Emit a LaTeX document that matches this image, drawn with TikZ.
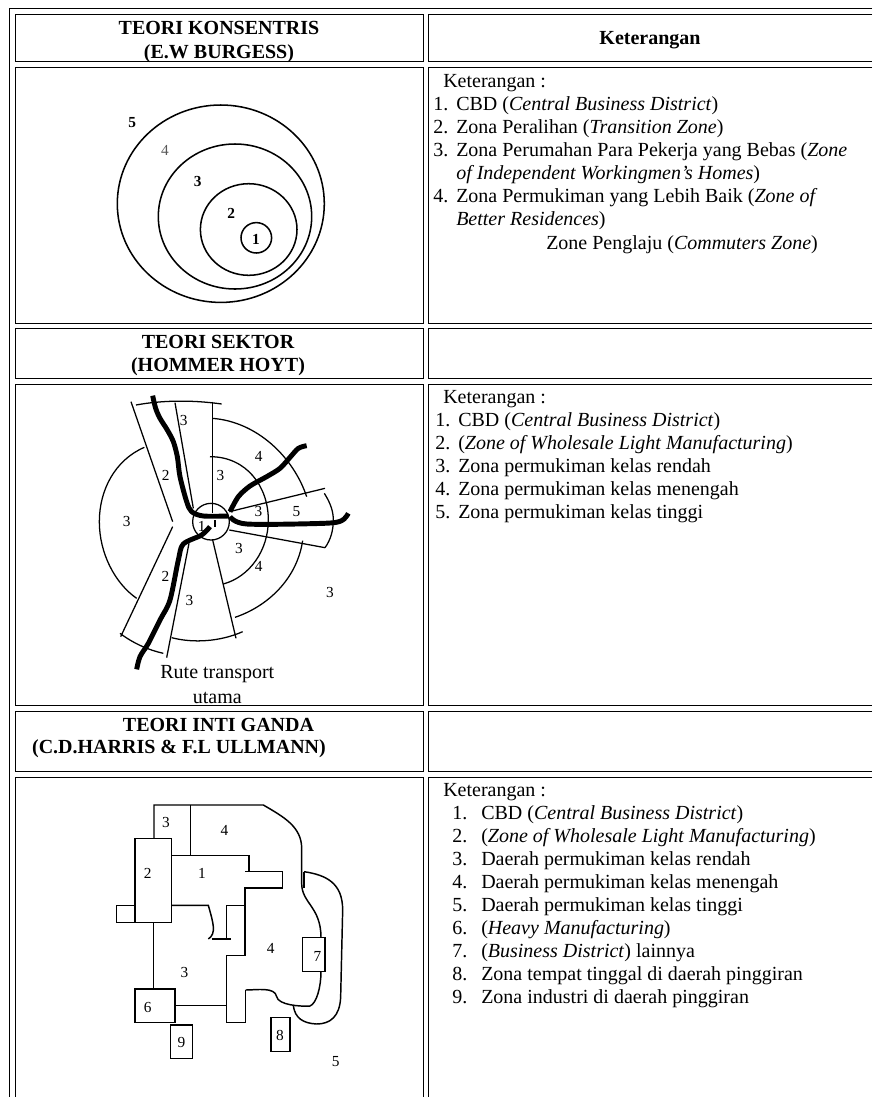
\documentclass[tikz,border=0pt]{standalone}
\usepackage{fontspec}
\setmainfont{Liberation Serif}
\newcommand{\bodyf}{\fontsize{15pt}{18pt}\selectfont}
\newcommand{\headf}{\fontsize{15pt}{18pt}\selectfont\bfseries}
\newcommand{\numf}{\fontsize{11.5pt}{13pt}\selectfont}
\tikzset{
  x=0.75pt,y=-0.75pt,
  cell/.style={line width=0.75pt,draw=black},
  txt/.style={inner sep=0pt,anchor=base west,font=\bodyf},
  head/.style={inner sep=0pt,anchor=base,font=\headf},
  num/.style={inner sep=0pt,font=\numf},
  bnum/.style={inner sep=0pt,font=\numf\bfseries},
  ring/.style={line width=1.15pt},
  thin line/.style={line width=0.95pt},
  route/.style={line width=3.7pt,line cap=butt,line join=round},
  box line/.style={line width=1.1pt},
  box heavy/.style={line width=1.7pt}
}
\begin{document}
\begin{tikzpicture}
\useasboundingbox (0,0) rectangle (872,1097);
\fill[white] (0,0) rectangle (872,1097);
% outer table
\draw[cell] (872,8.5) -- (9.5,8.5) -- (9.5,1097);
% cells left
\foreach \a/\b in {14.5/61.5,67.5/323.5,328.5/378.5,384.5/705.5,711.5/771.5}
  \draw[cell] (15.5,\a) rectangle (423.5,\b);
\draw[cell] (423.5,1097) -- (423.5,777.5) -- (15.5,777.5) -- (15.5,1097);
\foreach \a/\b in {14.5/61.5,67.5/323.5,328.5/378.5,384.5/705.5,711.5/771.5}
  \draw[cell] (872,\a) -- (428.5,\a) -- (428.5,\b) -- (872,\b);
\draw[cell] (872,777.5) -- (428.5,777.5) -- (428.5,1097);
% headers
\node[head] (h1a) at (219,34) {TEORI KONSENTRIS};
\node[head] (h1b) at (219,58) {(E.W BURGESS)};
\node[head] (h1c) at (650,44) {Keterangan};
\node[head] (h2a) at (218,348) {TEORI SEKTOR};
\node[head] (h2b) at (218,371.5) {(HOMMER HOYT)};
\node[head] (h3a) at (218.5,731) {TEORI INTI GANDA};
\node[head] (h3b) at (179,753.5) {(C.D.HARRIS \& F.L ULLMANN)};
% right column row 1
\node[txt] (k1) at (443,87) {Keterangan :};
\node[txt] (a1n) at (433,110) {1.}; \node[txt] (a1) at (456,110) {CBD (\textit{Central Business District})};
\node[txt] (a2n) at (433,133) {2.}; \node[txt] (a2) at (456,133) {Zona Peralihan (\textit{Transition Zone})};
\node[txt] (a3n) at (433,156) {3.}; \node[txt] (a3) at (456,156) {Zona Perumahan Para Pekerja yang Bebas (\textit{Zone}};
\node[txt] (a3b) at (456,179) {\textit{of Independent Workingmen’s Homes})};
\node[txt] (a4n) at (433,202) {4.}; \node[txt] (a4) at (456,202) {Zona Permukiman yang Lebih Baik (\textit{Zone of}};
\node[txt] (a4b) at (456,225) {\textit{Better Residences})};
\node[txt] (a5) at (546,249) {Zone Penglaju (\textit{Commuters Zone})};
% row 2
\node[txt] (k2) at (443,403) {Keterangan :};
\node[txt] (b1n) at (435,426) {1.}; \node[txt] (b1) at (458,426) {CBD (\textit{Central Business District})};
\node[txt] (b2n) at (435,449) {2.}; \node[txt] (b2) at (458,449) {(\textit{Zone of Wholesale Light Manufacturing})};
\node[txt] (b3n) at (435,472) {3.}; \node[txt] (b3) at (458,472) {Zona permukiman kelas rendah};
\node[txt] (b4n) at (435,495) {4.}; \node[txt] (b4) at (458,495) {Zona permukiman kelas menengah};
\node[txt] (b5n) at (435,518) {5.}; \node[txt] (b5) at (458,518) {Zona permukiman kelas tinggi};
% row 3
\node[txt] (k3) at (443,796.5) {Keterangan :};
\node[txt] (c1n) at (452,819.5) {1.}; \node[txt] (c1) at (481,819.5) {CBD (\textit{Central Business District})};
\node[txt] (c2n) at (452,842.5) {2.}; \node[txt] (c2) at (481,842.5) {(\textit{Zone of Wholesale Light Manufacturing})};
\node[txt] (c3n) at (452,865.5) {3.}; \node[txt] (c3) at (481,865.5) {Daerah permukiman kelas rendah};
\node[txt] (c4n) at (452,888.5) {4.}; \node[txt] (c4) at (481,888.5) {Daerah permukiman kelas menengah};
\node[txt] (c5n) at (452,911.5) {5.}; \node[txt] (c5) at (481,911.5) {Daerah permukiman kelas tinggi};
\node[txt] (c6n) at (452,934.5) {6.}; \node[txt] (c6) at (481,934.5) {(\textit{Heavy Manufacturing})};
\node[txt] (c7n) at (452,957.5) {7.}; \node[txt] (c7) at (481,957.5) {(\textit{Business District}) lainnya};
\node[txt] (c8n) at (452,980.5) {8.}; \node[txt] (c8) at (481,980.5) {Zona tempat tinggal di daerah pinggiran};
\node[txt] (c9n) at (452,1003.5) {9.}; \node[txt] (c9) at (481,1003.5) {Zona industri di daerah pinggiran};
% concentric
\draw[ring] (220.8,203.7) ellipse [x radius=103.5,y radius=98.7];
\draw[ring] (235,216.5) ellipse [x radius=76.7,y radius=72.5];
\draw[ring] (248.7,229.5) ellipse [x radius=48.3,y radius=45.8];
\draw[ring] (256.3,237.8) ellipse [x radius=15.3,y radius=15.2];
\node[bnum] (n5) at (132.3,122.7) {5};
\node[num,text=black!65] (n4) at (165,150) {4};
\node[bnum] (n3) at (197.7,181.7) {3};
\node[bnum] (n2) at (231.3,213.3) {2};
\node[bnum] (n1) at (256,239.3) {1};
% sector diagram (coordinates as thirds of a pixel)
\begin{scope}[shift={(90,380)},x=0.25pt,y=-0.25pt]
\begin{scope}[thin line]
\draw (123,65) -- (248,425);
\draw (248,440) -- (92,770);
\draw (255,68) -- (310,385);
\draw (367,65) -- (367,400);
\draw (418,395) -- (705,325);
\draw (418,450) -- (705,503);
\draw (368,480) -- (438,775);
\draw (297,490) -- (230,833);
\draw (363,425) circle [radius=55];
\draw (138,75) .. controls (220,60) and (310,60) .. (395,72);
\draw (367,115) .. controls (500,125) and (610,230) .. (650,350);
\draw (360,230) .. controls (470,230) and (535,320) .. (535,420) .. controls (535,510) and (480,590) .. (400,612);
\draw (703,340) .. controls (722,370) and (730,395) .. (730,420) .. controls (730,450) and (722,480) .. (705,503);
\draw (638,482) .. controls (620,600) and (530,680) .. (435,712);
\draw (245,773) .. controls (310,790) and (390,785) .. (458,755);
\draw (163,202) .. controls (75,240) and (28,330) .. (28,425) .. controls (28,520) and (75,610) .. (140,655);
\draw (90,760) .. controls (130,790) and (175,810) .. (220,820);
\end{scope}
\draw[route] plot[smooth] coordinates {(188,47) (197,85) (210,115) (232,150) (250,185) (262,230) (270,290) (290,365) (305,395) (340,408) (415,408)};
\draw[route] plot[smooth] coordinates {(650,197) (625,205) (600,232) (570,265) (530,290) (480,318) (445,350) (420,395)};
\draw[route] plot[smooth] coordinates {(775,400) (755,422) (700,430) (470,432) (420,410)};
\draw[route] plot[smooth] coordinates {(360,440) (335,465) (280,492) (265,540) (240,660) (210,720) (175,790) (150,830) (140,868)};
\draw[line width=1.7pt] (375,420) -- (375,442);
\foreach \n/\px/\py/\t in {s1/281/120/3,s2/506/228/4,s3/391/285/3,s4/227/287/2,s5/505/393/3,s6/619/395/5,s7/110/423/3,s8/335/440/1,s9/447/505/3,s10/506/560/4,s11/226/590/2,s12/298/660/3,s13/720/638/3}
  \node[num] (\n) at (\px,\py) {\t};
\node[inner sep=0pt,font=\bodyf] (rt1) at (382,883) {Rute transport};
\node[inner sep=0pt,font=\bodyf] (rt2) at (382,955) {utama};
\end{scope}
% multiple nuclei (coordinates as thirds of a pixel)
\begin{scope}[shift={(100,770)},x=0.25pt,y=-0.25pt,box line]
\draw (105,205) rectangle (215,457);
\draw (105,406) -- (49,406) -- (49,457) -- (105,457);
\draw (162,205) -- (162,105) -- (490,105) .. controls (550,140) and (605,170) .. (605,235) -- (605,340) .. controls (605,400) and (663,410) .. (663,503);
\draw (272,105) -- (272,256);
\draw (215,256) -- (447,256) -- (447,305);
\draw (435,305) -- (547,305) -- (547,354) -- (435,354) -- (435,557) -- (380,557) -- (380,757) -- (437,757) -- (437,660);
\draw (437,660) .. controls (470,660) and (525,650) .. (530,680) .. controls (535,705) and (600,710) .. (630,708) .. controls (650,700) and (663,650) .. (663,605);
\draw (215,406) -- (325,406) .. controls (340,460) and (350,490) .. (325,507);
\draw[box heavy] (335,507) -- (392,507);
\draw (380,507) -- (380,406) -- (435,406);
\draw (607,503) rectangle (675,605);
\draw[box heavy] (612,355) -- (612,305);
\draw (612,305) .. controls (680,315) and (728,340) .. (728,420) -- (722,680) .. controls (720,740) and (690,762) .. (650,762) .. controls (610,760) and (585,745) .. (580,707);
\draw (160,457) -- (160,657);
\draw (105,657) rectangle (225,757);
\draw (225,707) -- (380,707);
\draw (211,765) rectangle (277,866);
\draw (513,743) rectangle (570,845);
\foreach \n/\px/\py/\t in {t1/198/158/3,t2/373/180/4,t3/143/311/2,t4/306/311/1,t5/512/535/4,t6/253/608/3,t7/652/558/7,t8/143/711/6,t9/244/818/9,t10/540/795/8,t11/707/875/5}
  \node[num] (\n) at (\px,\py) {\t};
\end{scope}
\end{tikzpicture}
\end{document}
